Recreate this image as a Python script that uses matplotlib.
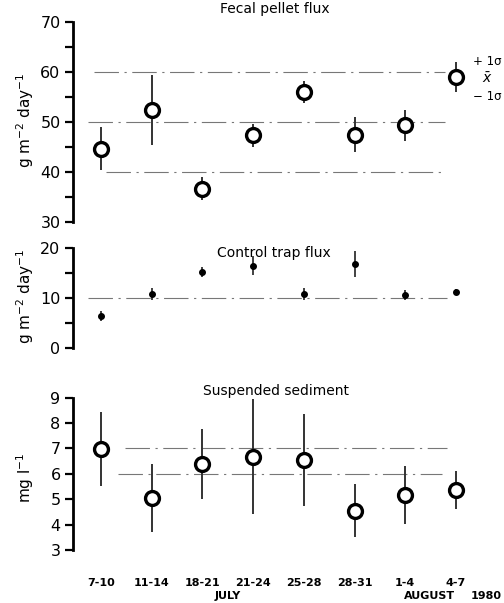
import numpy as np
import matplotlib
matplotlib.use("Agg")
import matplotlib.pyplot as plt

dates = ['7-10', '11-14', '18-21', '21-24', '25-28', '28-31', '1-4', '4-7']

fecal_mean = [44.6, 52.3, 36.6, 47.3, 55.9, 47.4, 49.3, 59.0]
fecal_sd = [4.3, 7.0, 2.3, 2.3, 2.2, 3.5, 3.1, 3.0]
fecal_ref = [40, 50, 60]

control_mean = [6.4, 10.9, 15.2, 16.5, 10.9, 16.8, 10.6, 11.3]
control_sd = [1.0, 1.2, 1.0, 1.8, 1.2, 2.5, 1.0, 0.5]
control_ref = [10]

sediment_mean = [6.97, 5.04, 6.39, 6.68, 6.55, 4.55, 5.17, 5.36]
sediment_sd = [1.45, 1.33, 1.38, 2.25, 1.8, 1.05, 1.15, 0.75]
sediment_ref = [6, 7]

W, H = 504, 603
fig = plt.figure(figsize=(W / 100, H / 100), dpi=100)
plt.rcParams['font.family'] = 'DejaVu Sans'

x = np.arange(len(dates))
# pixel layout: first point at 101 px, spacing 50.7 px, spine at 73 px
xl = (73 - 101) / 50.7
xr = (470 - 101) / 50.7
left = 73 / W
width = (470 - 73) / W


def px_axes(top, bottom):
    return [left, 1 - bottom / H, width, (bottom - top) / H]


def style(ax, lo, hi, major, minor):
    for s in ['top', 'right', 'bottom']:
        ax.spines[s].set_visible(False)
    ax.spines['left'].set_linewidth(2.0)
    ax.spines['left'].set_bounds(lo, hi)
    ax.set_ylim(lo, hi)
    ax.set_xlim(xl, xr)
    ax.set_yticks(major)
    ax.set_yticks(minor, minor=True)
    ax.tick_params(axis='y', which='major', direction='out', length=6, width=1.6, labelsize=11.5, pad=3)
    ax.tick_params(axis='y', which='minor', direction='out', length=6, width=1.6)
    ax.tick_params(axis='x', length=0)
    ax.set_xticks([])
    ax.patch.set_alpha(0)


refstyle = dict(colors='#777777', linewidth=0.8, linestyles=(0, (22, 5, 2, 5)))

# Fecal pellet flux
ax1 = fig.add_axes(px_axes(21.7, 221.7))
style(ax1, 30, 70, [30, 40, 50, 60, 70], np.arange(30, 71, 5))
ax1.hlines(fecal_ref, [0.1, -0.26, -0.14], 6.78, **refstyle)
ax1.errorbar(x, fecal_mean, yerr=fecal_sd, fmt='o', ms=10, mfc='white', mec='black',
             mew=2.4, ecolor='#333333', elinewidth=1.4, capsize=0, zorder=3)
ax1.text(3.43, 72.5, 'Fecal pellet flux', ha='center', va='center', fontsize=10)
ax1.text(7.9, 62.0, '+ 1σ', ha='right', va='center', fontsize=8.5, clip_on=False)
ax1.text(7.62, 58.6, r'$\bar{x}$', ha='center', va='center', fontsize=10, clip_on=False)
ax1.text(7.9, 55.0, '− 1σ', ha='right', va='center', fontsize=8.5, clip_on=False)

# Control trap flux
ax2 = fig.add_axes(px_axes(248, 348))
style(ax2, 0, 20, [0, 10, 20], np.arange(0, 21, 5))
ax2.hlines(control_ref, -0.26, 6.82, **refstyle)
ax2.errorbar(x, control_mean, yerr=control_sd, fmt='o', ms=4, color='black',
             ecolor='#333333', elinewidth=1.3, capsize=0, zorder=3)
ax2.text(3.41, 19.0, 'Control trap flux', ha='center', va='center', fontsize=10)

# Suspended sediment
ax3 = fig.add_axes(px_axes(397.7, 550))
style(ax3, 3, 9, np.arange(3, 10), [])
ax3.hlines(sediment_ref, [0.34, 0.47], [6.73, 6.82], **refstyle)
ax3.errorbar(x, sediment_mean, yerr=sediment_sd, fmt='o', ms=10, mfc='white', mec='black',
             mew=2.4, ecolor='#333333', elinewidth=1.4, capsize=0, zorder=3)
ax3.text(3.46, 9.27, 'Suspended sediment', ha='center', va='center', fontsize=10)
ax3.set_xticks(x)
ax3.set_xticklabels(dates, fontsize=8, fontweight='bold')
ax3.tick_params(axis='x', length=0, pad=20)

# y labels
ylab = 'g m$^{-2}$ day$^{-1}$'
fig.text(25 / W, 1 - 120 / H, ylab, rotation=90, ha='center', va='center', fontsize=11)
fig.text(25 / W, 1 - 296 / H, ylab, rotation=90, ha='center', va='center', fontsize=11)
fig.text(25 / W, 1 - 478 / H, 'mg l$^{-1}$', rotation=90, ha='center', va='center', fontsize=11)

# month labels
fig.text(228 / W, 1 - 596 / H, 'JULY', ha='center', va='center', fontsize=8, fontweight='bold')
fig.text(429 / W, 1 - 596 / H, 'AUGUST', ha='center', va='center', fontsize=8, fontweight='bold')
fig.text(502 / W, 1 - 596 / H, '1980', ha='right', va='center', fontsize=8, fontweight='bold')

fig.savefig('out.png', dpi=100)
